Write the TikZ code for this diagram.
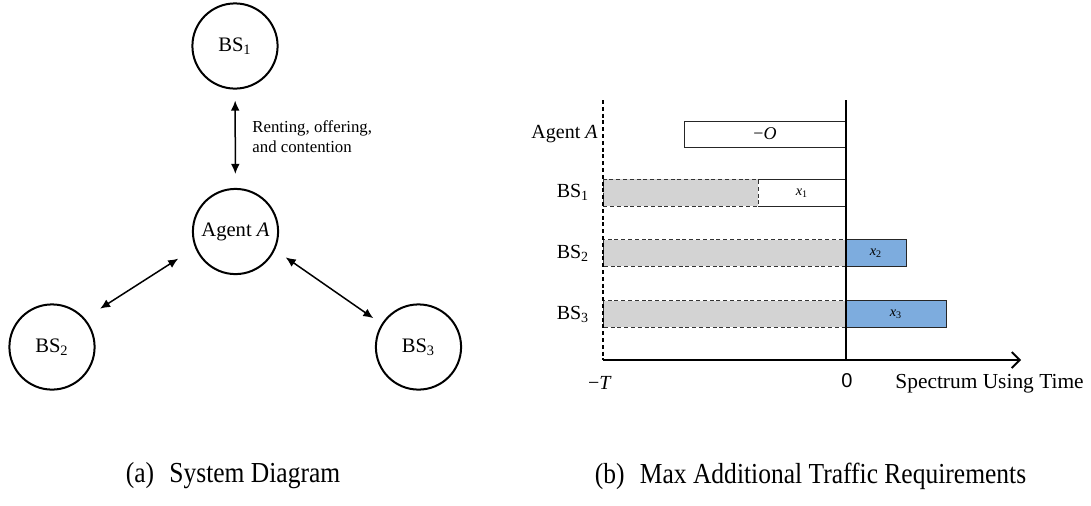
\documentclass[tikz,border=0pt]{standalone}
\usepackage{fontspec}
\usepackage{amsmath}
\setmainfont{Liberation Serif}
\newfontfamily\arialfont{Liberation Sans}
\usetikzlibrary{arrows.meta}
\definecolor{barblue}{RGB}{125,172,222}
\definecolor{bargray}{RGB}{211,211,211}
\newcommand\lowsub[1]{\raisebox{-0.45ex}{\fontsize{0.72\dimexpr\csname f@size\endcsname pt\relax}{1pt}\selectfont #1}}
\begin{document}
\begin{tikzpicture}[x=0.5pt,y=-0.5pt,
  circ/.style={circle,draw,line width=1pt,minimum size=42.6pt,inner sep=0pt,font=\fontsize{10.3}{12}\selectfont},
  darr/.style={{Latex[length=5pt,width=4.4pt]}-{Latex[length=5pt,width=4.4pt]},line width=0.75pt},
  lab/.style={font=\fontsize{10}{12}\selectfont,inner sep=0pt},
  xlab/.style={font=\fontsize{7.2}{9}\selectfont,inner sep=0pt},
  dashedge/.style={dash pattern=on 2pt off 1.4pt,line width=0.5pt,draw=black!80},
  solidbar/.style={line width=0.5pt,draw=black!85},
  captext/.style={font=\fontsize{14.5}{16}\selectfont,inner sep=0pt,xscale=0.88,transform shape},
]
\useasboundingbox (0,0) rectangle (1091,505);
% ---------- (a) system diagram ----------
\node[circ] (bs1) at (235,46) {BS$_{\text{1}}$};
\node[circ] (agent) at (235.5,231.5) {Agent \textit{A}};
\node[circ] (bs2) at (52,347) {BS$_{\text{2}}$};
\node[circ] (bs3) at (418.5,347) {BS$_{\text{3}}$};
\draw[darr,shorten <=5.5pt,shorten >=7pt] (bs1) -- (agent);
\draw[darr,shorten <=10pt,shorten >=9pt] (agent.202) -- (bs2.41);
\draw[darr,shorten <=6.5pt,shorten >=5pt] (agent.-25) -- (bs3.148);
\node[anchor=north west,align=left,inner sep=0pt,font=\fontsize{8.4}{10}\selectfont] (rent) at (252,120) {Renting, offering,\\and contention};
% ---------- (b) bars ----------
\fill[bargray] (603,179) rectangle (758,206);
\draw[dashedge] (603,179) rectangle (758,206);
\draw[solidbar] (758,179) -- (846,179) (758,206) -- (846,206);
\node[xlab] (x1) at (802,193) {\textit{x}$_{\text{1}}$};
\draw[solidbar,fill=white] (684,121) rectangle (846,147);
\node[font=\fontsize{9}{11}\selectfont,inner sep=0pt] (mo) at (765,134) {−\textit{O}};
\fill[bargray] (603,239.5) rectangle (846,266);
\draw[dashedge] (603,239.5) rectangle (846,266);
\draw[solidbar,fill=barblue] (846,239.5) rectangle (906,266);
\node[xlab] (x2) at (876,253) {\textit{x}$_{\text{2}}$};
\fill[bargray] (603,300.5) rectangle (846,327);
\draw[dashedge] (603,300.5) rectangle (846,327);
\draw[solidbar,fill=barblue] (846,300.5) rectangle (946.5,327);
\node[xlab] (x3) at (896,314) {\textit{x}$_{\text{3}}$};
% axes
\coordinate (tl) at (603,100);
\coordinate (o) at (603,360);
\coordinate (zt) at (846,100);
\coordinate (zb) at (846,360);
\coordinate (tip) at (1021,360);
\draw[dash pattern=on 2pt off 1.4pt,line width=0.65pt] (tl) -- (o);
\draw[line width=0.9pt] (zt) -- (zb);
\draw[line width=0.9pt,-{Straight Barb[length=4pt,width=8pt]}] (o) -- (tip);
% labels
\node[lab,anchor=east] (la) at (598,134) {Agent \textit{A}};
\node[lab] (lb1) at (573,192) {BS$_{\text{1}}$};
\node[lab] (lb2) at (573,253) {BS$_{\text{2}}$};
\node[lab] (lb3) at (573,314) {BS$_{\text{3}}$};
\node[lab] (mt) at (600,383) {−\textit{T}};
\node[font=\arialfont\fontsize{10}{12}\selectfont,inner sep=0pt] (zero) at (847,381) {0};
\node[anchor=west,inner sep=0pt,font=\fontsize{10.7}{12}\selectfont] (sut) at (895,384) {Spectrum Using Time};
% captions
\node[captext] (capa) at (233,476) {(a)\ \hspace{0.35em}System Diagram};
\node[captext] (capb) at (810.5,476) {(b)\ \hspace{0.35em}Max Additional Traffic Requirements};
\end{tikzpicture}
\end{document}
